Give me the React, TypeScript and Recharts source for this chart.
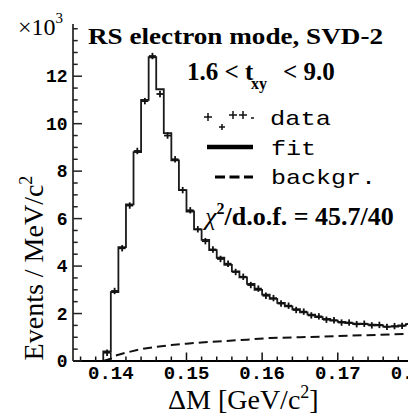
import React from 'react';
import { ComposedChart, Line, Scatter, XAxis, YAxis } from 'recharts';

// Bin left edges (GeV/c^2), bin width 0.001
const binEdges = [
  0.135, 0.139, 0.140, 0.141, 0.142, 0.143, 0.144, 0.145, 0.146, 0.147, 0.148, 0.149,
  0.150, 0.151, 0.152, 0.153, 0.154, 0.155, 0.156, 0.157, 0.158, 0.159,
  0.160, 0.161, 0.162, 0.163, 0.164, 0.165, 0.166, 0.167, 0.168, 0.169,
  0.170, 0.171, 0.172, 0.173, 0.174, 0.175, 0.176, 0.177, 0.178, 0.179, 0.180,
];
// Fit (stepped histogram), x10^3 events per MeV/c^2
const fitValues = [
  0, 0.4, 2.9, 4.8, 6.6, 8.8, 11.0, 12.8, 11.45, 9.6, 8.45, 7.2,
  6.3, 5.55, 5.1, 4.67, 4.35, 4.05, 3.78, 3.52, 3.25, 3.0,
  2.8, 2.62, 2.45, 2.3, 2.18, 2.05, 1.95, 1.85, 1.77, 1.7,
  1.65, 1.6, 1.57, 1.55, 1.53, 1.5, 1.45, 1.45, 1.5, 1.55, 1.55,
];
// Data points at bin centres
const dataCenters = [
  0.1395, 0.1405, 0.1415, 0.1425, 0.1435, 0.1445, 0.1455, 0.1465, 0.1475, 0.1485, 0.1495,
  0.1505, 0.1515, 0.1525, 0.1535, 0.1545, 0.1555, 0.1565, 0.1575, 0.1585, 0.1595,
  0.1605, 0.1615, 0.1625, 0.1635, 0.1645, 0.1655, 0.1665, 0.1675, 0.1685, 0.1695,
  0.1705, 0.1715, 0.1725, 0.1735, 0.1745, 0.1755, 0.1765, 0.1775, 0.1785, 0.1795,
];
const dataValues = [
  0.35, 2.95, 4.75, 6.55, 8.85, 10.95, 12.85, 11.25, 9.5, 8.5, 7.2,
  6.35, 5.55, 5.05, 4.7, 4.3, 4.1, 3.75, 3.55, 3.2, 3.05,
  2.75, 2.65, 2.42, 2.33, 2.15, 2.08, 1.92, 1.88, 1.74, 1.72,
  1.62, 1.62, 1.55, 1.57, 1.5, 1.52, 1.44, 1.47, 1.48, 1.55,
];
// Background component
const bkgX = [0.139, 0.140, 0.1405, 0.142, 0.144, 0.146, 0.148, 0.150, 0.152, 0.155, 0.158, 0.161, 0.165, 0.170, 0.175, 0.1795];
const bkgY = [0.0, 0.1, 0.22, 0.35, 0.5, 0.6, 0.67, 0.73, 0.78, 0.84, 0.9, 0.97, 1.0, 1.05, 1.1, 1.15];

const xTicks = [
  0.136, 0.138, 0.14, 0.142, 0.144, 0.146, 0.148, 0.15, 0.152, 0.154, 0.156, 0.158,
  0.16, 0.162, 0.164, 0.166, 0.168, 0.17, 0.172, 0.174, 0.176, 0.178, 0.18,
];
const xMajor = [0.14, 0.15, 0.16, 0.17, 0.18];
const yTicks = [0, 0.5, 1, 1.5, 2, 2.5, 3, 3.5, 4, 4.5, 5, 5.5, 6, 6.5, 7, 7.5, 8, 8.5, 9, 9.5, 10, 10.5, 11, 11.5, 12, 12.5, 13, 13.5, 14];
const yMajor = [0, 2, 4, 6, 8, 10, 12];

const fitData = binEdges.map((x, i) => ({ x, y: fitValues[i] }));
const pointData = dataCenters.map((x, i) => ({ x, y: dataValues[i] }));
const bkgData = bkgX.map((x, i) => ({ x, y: bkgY[i] }));

const SERIF = '"Liberation Serif", "Times New Roman", serif';
const MONO = '"Liberation Mono", "Courier New", monospace';

const isMajor = (v: number, list: number[]) => list.some((m) => Math.abs(m - v) < 1e-7);

const XTick = (props: any) => {
  const { x, y, payload } = props;
  const major = isMajor(payload.value, xMajor);
  return (
    <g>
      <line x1={x} x2={x} y1={y} y2={y - (major ? 8.5 : 4.5)} stroke="#111" strokeWidth={1.5} />
      {major && (
        <text x={x} y={y + 18} textAnchor="middle" fontFamily={MONO} fontWeight="bold" fontSize={19} fill="#000">
          {payload.value.toFixed(2)}
        </text>
      )}
    </g>
  );
};

const YTick = (props: any) => {
  const { x, y, payload } = props;
  const major = isMajor(payload.value, yMajor);
  return (
    <g>
      <line x1={x} x2={x + (major ? 9 : 4.7)} y1={y} y2={y} stroke="#222" strokeWidth={1.5} />
      {major && (
        <text x={x - 5.5} y={y + 6} textAnchor="end" fontFamily={MONO} fontWeight="bold" fontSize={18} fill="#000">
          {payload.value}
        </text>
      )}
    </g>
  );
};

const Cross = (props: any) => {
  const { cx, cy } = props;
  return (
    <g>
      <line x1={cx - 3.5} x2={cx + 3.5} y1={cy} y2={cy} stroke="#111" strokeWidth={1.8} />
      <line x1={cx} x2={cx} y1={cy - 3.2} y2={cy + 3.2} stroke="#111" strokeWidth={1.8} />
    </g>
  );
};

export default function App() {
  return (
    <div style={{ position: 'absolute', left: 0, top: 0, width: 408, height: 415, overflow: 'hidden', background: '#fff' }}>
      <ComposedChart width={422} height={415} margin={{ top: 24, right: 1, bottom: 0, left: 0 }}>
        <XAxis
          xAxisId={0}
          dataKey="x"
          type="number"
          domain={[0.135, 0.181]}
          allowDataOverflow
          ticks={xTicks}
          interval={0}
          tickSize={0}
          tickMargin={0}
          tickLine={false}
          tick={<XTick />}
          height={54}
          axisLine={{ stroke: '#000', strokeWidth: 2 }}
        />
        <XAxis
          xAxisId="top"
          orientation="top"
          dataKey="x"
          type="number"
          domain={[0.135, 0.181]}
          allowDataOverflow
          height={0}
          tick={false}
          tickLine={false}
          axisLine={{ stroke: '#777', strokeWidth: 2 }}
        />
        <YAxis
          dataKey="y"
          type="number"
          domain={[0, 14.2]}
          allowDataOverflow
          ticks={yTicks}
          interval={0}
          tickSize={0}
          tickMargin={0}
          tickLine={false}
          tick={<YTick />}
          width={73}
          axisLine={{ stroke: '#444', strokeWidth: 2 }}
        />
        <Line
          data={bkgData}
          dataKey="y"
          type="linear"
          stroke="#111"
          strokeWidth={2}
          strokeDasharray="9 5"
          dot={false}
          isAnimationActive={false}
        />
        <Line
          data={fitData}
          dataKey="y"
          type="stepAfter"
          stroke="#1a1a1a"
          strokeWidth={1.8}
          dot={false}
          isAnimationActive={false}
        />
        <Scatter data={pointData} dataKey="y" shape={<Cross />} isAnimationActive={false} />
      </ComposedChart>
      <svg width={408} height={415} style={{ position: 'absolute', left: 0, top: 0, pointerEvents: 'none' }}>
        <text x={18} y={35} fontFamily={SERIF} fontSize={24} fill="#000">
          ×10<tspan fontSize={15} dy={-12}>3</tspan>
        </text>
        <text x={88} y={44} fontFamily={SERIF} fontWeight="bold" fontSize={24} fill="#000" textLength={295} lengthAdjust="spacingAndGlyphs">
          RS electron mode, SVD-2
        </text>
        <text x={187} y={80} fontFamily={SERIF} fontWeight="bold" fontSize={25} fill="#000">1.6 &lt; t</text>
        <text x={251} y={89} fontFamily={SERIF} fontWeight="bold" fontSize={16} fill="#000">xy</text>
        <text x={283} y={80} fontFamily={SERIF} fontWeight="bold" fontSize={25} fill="#000">&lt; 9.0</text>

        {/* legend: data */}
        <g stroke="#111" strokeWidth={1.5}>
          <line x1={204} x2={212} y1={117} y2={117} />
          <line x1={208} x2={208} y1={113} y2={121} />
          <line x1={219} x2={225} y1={127} y2={127} />
          <line x1={222} x2={222} y1={124} y2={130} />
          <line x1={229} x2={237} y1={115} y2={115} />
          <line x1={233} x2={233} y1={111} y2={119} />
          <line x1={239} x2={247} y1={115} y2={115} />
          <line x1={243} x2={243} y1={111} y2={119} />
          <line x1={251} x2={254} y1={118} y2={118} />
        </g>
        <text x={270} y={125} fontFamily={MONO} fontSize={21} fill="#000" textLength={61} lengthAdjust="spacingAndGlyphs">data</text>
        <line x1={207} x2={253} y1={147} y2={147} stroke="#000" strokeWidth={4.5} />
        <text x={271} y={155} fontFamily={MONO} fontSize={21} fill="#000" textLength={45} lengthAdjust="spacingAndGlyphs">fit</text>
        <line x1={215} x2={253} y1={177} y2={177} stroke="#000" strokeWidth={3} strokeDasharray="10 4.5" />
        <text x={271} y={184} fontFamily={MONO} fontSize={21} fill="#000" textLength={105} lengthAdjust="spacingAndGlyphs">backgr.</text>

        <text x={205} y={225} fontFamily={SERIF} fontWeight="bold" fontSize={26} fill="#000">
          <tspan fontStyle="italic" fontWeight="normal">χ</tspan>
          <tspan fontSize={16} dy={-11}>2</tspan>
          <tspan dy={11}>/d.o.f. = 45.7/40</tspan>
        </text>

        <text x={43} y={268} transform="rotate(-90 43 268)" textAnchor="middle" fontFamily={SERIF} fontSize={28} fill="#000">
          Events / MeV/c<tspan fontSize={18} dy={-11}>2</tspan>
        </text>
        <text x={168} y={409} fontFamily={SERIF} fontSize={28} fill="#000">
          ΔM [GeV/c<tspan fontSize={18} dy={-11}>2</tspan><tspan dy={11}>]</tspan>
        </text>
      </svg>
    </div>
  );
}
